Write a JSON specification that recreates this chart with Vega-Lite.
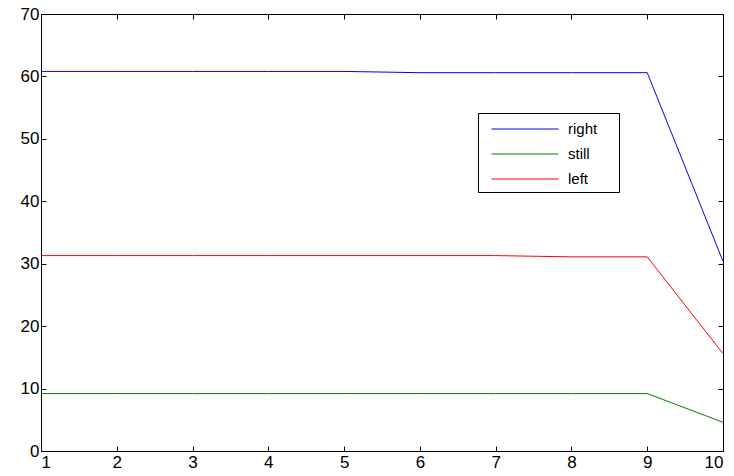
{
  "$schema": "https://vega.github.io/schema/vega-lite/v6.json",
  "width": 682,
  "height": 437,
  "autosize": "none",
  "padding": {"left": 41, "top": 14, "right": 11, "bottom": 25},
  "background": "white",
  "config": {
    "view": {"stroke": "black", "strokeWidth": 1},
    "axis": {"labelFont": "Liberation Sans", "labelFontSize": 17, "labelColor": "black", "grid": false, "domain": false, "tickColor": "black", "tickSize": -5, "title": null}
  },
  "data": {"values": [
    {"x": 1, "v": 60.8, "s": "right"}, {"x": 2, "v": 60.8, "s": "right"}, {"x": 3, "v": 60.8, "s": "right"}, {"x": 4, "v": 60.8, "s": "right"}, {"x": 5, "v": 60.8, "s": "right"}, {"x": 6, "v": 60.6, "s": "right"}, {"x": 7, "v": 60.6, "s": "right"}, {"x": 8, "v": 60.6, "s": "right"}, {"x": 9, "v": 60.6, "s": "right"}, {"x": 10, "v": 30.4, "s": "right"},
    {"x": 1, "v": 9.2, "s": "still"}, {"x": 2, "v": 9.2, "s": "still"}, {"x": 3, "v": 9.2, "s": "still"}, {"x": 4, "v": 9.2, "s": "still"}, {"x": 5, "v": 9.2, "s": "still"}, {"x": 6, "v": 9.2, "s": "still"}, {"x": 7, "v": 9.2, "s": "still"}, {"x": 8, "v": 9.2, "s": "still"}, {"x": 9, "v": 9.2, "s": "still"}, {"x": 10, "v": 4.6, "s": "still"},
    {"x": 1, "v": 31.3, "s": "left"}, {"x": 2, "v": 31.3, "s": "left"}, {"x": 3, "v": 31.3, "s": "left"}, {"x": 4, "v": 31.3, "s": "left"}, {"x": 5, "v": 31.3, "s": "left"}, {"x": 6, "v": 31.3, "s": "left"}, {"x": 7, "v": 31.3, "s": "left"}, {"x": 8, "v": 31.1, "s": "left"}, {"x": 9, "v": 31.1, "s": "left"}, {"x": 10, "v": 15.6, "s": "left"}
  ]},
  "layer": [
    {
      "mark": {"type": "line", "strokeWidth": 1},
      "encoding": {
        "x": {"field": "x", "type": "quantitative", "scale": {"domain": [1, 10], "nice": false, "zero": false}, "axis": {"orient": "bottom", "values": [1,2,3,4,5,6,7,8,9,10], "labelPadding": 8}},
        "y": {"field": "v", "type": "quantitative", "scale": {"domain": [0, 70], "nice": false}, "axis": {"orient": "left", "values": [0,10,20,30,40,50,60,70], "labelPadding": 7}},
        "color": {"field": "s", "type": "nominal", "sort": ["right", "still", "left"],
          "scale": {"domain": ["right", "still", "left"], "range": ["#0000ff", "#008000", "#ff0000"]},
          "legend": {"orient": "none", "legendX": 437, "legendY": 99, "title": "\u00a0", "titleOrient": "right", "titlePadding": 17, "titleFontSize": 10, "strokeColor": "black", "fillColor": "white", "padding": 5, "symbolType": "stroke", "symbolSize": 484, "symbolOffset": 8, "symbolStrokeWidth": 1, "labelFont": "Liberation Sans", "labelFontSize": 15, "labelColor": "black", "rowPadding": 6, "labelOffset": 9,
            "encode": {"symbols": {"update": {"size": {"value": 4489}, "y": {"value": 11}}}, "labels": {"update": {"y": {"value": 11}}}}}
        }
      }
    },
    {
      "mark": {"type": "point", "opacity": 0},
      "encoding": {
        "x": {"field": "x", "type": "quantitative", "scale": {"domain": [1, 10], "nice": false, "zero": false}, "axis": {"orient": "top", "values": [1,2,3,4,5,6,7,8,9,10], "labels": false}},
        "y": {"field": "v", "type": "quantitative", "scale": {"domain": [0, 70], "nice": false}, "axis": {"orient": "right", "values": [0,10,20,30,40,50,60,70], "labels": false}}
      }
    }
  ],
  "resolve": {"axis": {"x": "independent", "y": "independent"}}
}
